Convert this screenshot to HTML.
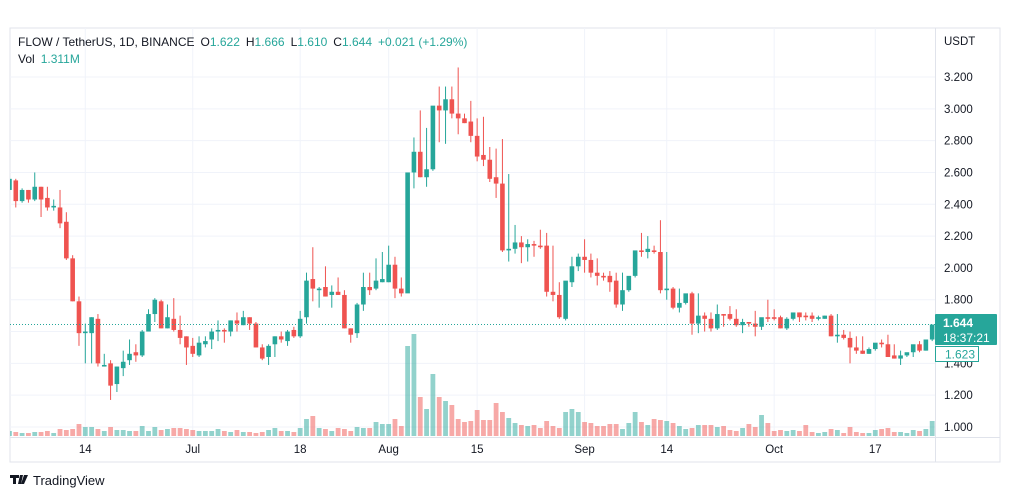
<!DOCTYPE html>
<html><head><meta charset="utf-8">
<style>
body{margin:0;background:#fff;width:1012px;height:498px;overflow:hidden;font-family:"Liberation Sans",sans-serif;}
svg{position:absolute;left:0;top:0;}
</style></head>
<body>
<svg id="chart" width="1012" height="498">
  <rect x="10" y="28" width="990" height="434" fill="#fff" stroke="#e0e3eb" stroke-width="1"/>
  <g id="grid"></g>
  <g id="vol"></g>
  <g id="candles"></g>
  <line x1="10" x2="935" y1="324.5" y2="324.5" stroke="#26a69a" stroke-dasharray="1,2"/>
  <line x1="935.5" x2="935.5" y1="28" y2="462" stroke="#e0e3eb"/>
  <line x1="10" x2="1000" y1="437.5" y2="437.5" stroke="#e0e3eb"/>
  <g id="yaxis"></g>
  <g id="xaxis"></g>
  <text x="944" y="45" font-size="11.5" fill="#131722">USDT</text>
  <rect x="935" y="314" width="62" height="31" rx="1" fill="#26a69a"/>
  <text x="943" y="327" font-size="12" font-weight="bold" fill="#fff">1.644</text>
  <text x="943" y="342" font-size="12" fill="#fff">18:37:21</text>
  <rect x="935.5" y="346.5" width="43" height="15" fill="#fff" stroke="#26a69a"/>
  <text x="945" y="358.5" font-size="12" fill="#26a69a">1.623</text>
  <text x="18" y="46" font-size="12" fill="#131722">FLOW / TetherUS, 1D, BINANCE<tspan dx="6">O</tspan><tspan fill="#26a69a">1.622</tspan><tspan dx="6">H</tspan><tspan fill="#26a69a">1.666</tspan><tspan dx="6">L</tspan><tspan fill="#26a69a">1.610</tspan><tspan dx="6">C</tspan><tspan fill="#26a69a">1.644</tspan><tspan dx="6" fill="#26a69a">+0.021 (+1.29%)</tspan></text>
  <text x="18" y="63" font-size="12" fill="#131722">Vol<tspan dx="6" fill="#26a69a">1.311M</tspan></text>
  <g>
    <path d="M10 475h9v3h-3v6h-3v-6h-3z M20 475h3l-2 9h-3z M24 475h4l-4 9h-3z" fill="#131722"/>
    <text x="33" y="485" font-size="13" fill="#131722">TradingView</text>
  </g>
</svg>
<script>
const opens=[2.49,2.55,2.42,2.49,2.43,2.51,2.44,2.38,2.38,2.29,2.06,1.79,1.59,1.59,1.68,1.38,1.40,1.27,1.37,1.42,1.47,1.45,1.60,1.71,1.79,1.62,1.68,1.61,1.57,1.51,1.45,1.52,1.55,1.60,1.61,1.60,1.67,1.64,1.69,1.65,1.50,1.44,1.52,1.57,1.54,1.61,1.57,1.69,1.93,1.86,1.88,1.83,1.85,1.83,1.62,1.59,1.77,1.88,1.87,1.91,1.91,2.02,1.87,1.84,2.60,2.73,2.57,2.62,3.02,2.99,3.06,2.97,2.94,2.92,2.83,2.71,2.68,2.57,2.53,2.11,2.12,2.16,2.13,2.15,2.14,2.14,1.85,1.83,1.68,1.91,2.01,2.07,2.05,1.97,1.95,1.95,1.92,1.77,1.86,1.95,2.11,2.10,2.11,2.10,1.86,1.87,1.75,1.78,1.84,1.65,1.70,1.68,1.62,1.71,1.71,1.68,1.64,1.66,1.65,1.63,1.69,1.69,1.69,1.62,1.68,1.72,1.70,1.70,1.68,1.68,1.70,1.57,1.58,1.56,1.50,1.48,1.46,1.49,1.53,1.52,1.45,1.43,1.45,1.47,1.52,1.48,1.55];
const highs=[2.56,2.56,2.50,2.49,2.60,2.51,2.51,2.43,2.49,2.35,2.08,1.82,1.65,1.69,1.71,1.46,1.42,1.38,1.48,1.55,1.52,1.61,1.74,1.81,1.80,1.77,1.81,1.70,1.57,1.56,1.57,1.57,1.62,1.67,1.62,1.67,1.72,1.73,1.69,1.66,1.52,1.52,1.57,1.60,1.61,1.63,1.73,1.97,2.13,1.88,2.01,1.89,1.94,1.86,1.62,1.78,1.97,1.97,2.06,2.10,2.14,2.07,1.94,1.82,2.82,2.99,2.88,2.77,3.14,3.14,3.14,3.26,2.97,3.05,2.94,2.95,2.76,2.75,2.81,2.59,2.27,2.20,2.18,2.17,2.24,2.22,2.14,1.91,1.85,2.07,2.09,2.18,2.09,2.06,1.97,1.98,1.97,1.97,1.88,2.03,2.22,2.20,2.14,2.30,2.10,1.88,1.87,1.80,1.85,1.84,1.72,1.72,1.77,1.71,1.76,1.74,1.68,1.66,1.73,1.66,1.80,1.74,1.70,1.69,1.70,1.72,1.72,1.72,1.70,1.70,1.71,1.71,1.61,1.60,1.57,1.57,1.50,1.50,1.55,1.58,1.52,1.48,1.46,1.48,1.54,1.54,1.59,1.666];
const lows=[2.49,2.38,2.41,2.41,2.42,2.32,2.36,2.36,2.25,2.05,1.79,1.51,1.40,1.40,1.38,1.38,1.17,1.22,1.32,1.39,1.41,1.44,1.60,1.66,1.62,1.62,1.60,1.52,1.39,1.44,1.44,1.50,1.49,1.54,1.53,1.57,1.60,1.64,1.61,1.50,1.42,1.39,1.44,1.53,1.51,1.56,1.56,1.65,1.79,1.75,1.82,1.75,1.83,1.62,1.53,1.56,1.73,1.83,1.86,1.91,1.91,1.81,1.82,1.82,2.50,2.57,2.51,2.61,2.79,2.78,2.94,2.84,2.91,2.79,2.67,2.64,2.54,2.44,2.10,2.04,2.09,2.03,2.04,2.07,2.12,1.82,1.79,1.68,1.67,1.88,1.98,1.97,1.94,1.89,1.92,1.85,1.75,1.73,1.85,1.94,2.07,2.06,2.09,1.84,1.80,1.74,1.72,1.77,1.58,1.59,1.60,1.60,1.61,1.63,1.67,1.63,1.59,1.63,1.57,1.61,1.66,1.67,1.62,1.61,1.67,1.66,1.67,1.66,1.67,1.68,1.57,1.53,1.55,1.40,1.46,1.46,1.46,1.48,1.50,1.44,1.43,1.39,1.44,1.44,1.47,1.48,1.54];
const closes=[2.56,2.42,2.49,2.43,2.51,2.43,2.38,2.39,2.28,2.06,1.79,1.59,1.60,1.69,1.40,1.39,1.26,1.38,1.41,1.46,1.45,1.60,1.71,1.80,1.62,1.69,1.61,1.56,1.50,1.46,1.53,1.54,1.60,1.61,1.60,1.67,1.65,1.69,1.65,1.50,1.43,1.51,1.57,1.55,1.60,1.57,1.68,1.92,1.87,1.87,1.82,1.85,1.83,1.62,1.58,1.77,1.88,1.86,1.92,1.93,2.02,1.87,1.84,2.60,2.73,2.57,2.62,3.02,2.99,3.06,2.97,2.94,2.91,2.83,2.70,2.68,2.56,2.53,2.11,2.12,2.16,2.13,2.15,2.14,2.13,1.85,1.83,1.69,1.92,2.01,2.07,2.05,1.97,1.95,1.94,1.91,1.77,1.86,1.95,2.11,2.10,2.12,2.10,1.86,1.87,1.75,1.78,1.84,1.65,1.70,1.68,1.62,1.71,1.70,1.68,1.64,1.66,1.65,1.63,1.69,1.68,1.68,1.62,1.68,1.72,1.69,1.69,1.68,1.69,1.70,1.57,1.58,1.56,1.50,1.48,1.46,1.49,1.53,1.52,1.44,1.43,1.45,1.47,1.52,1.48,1.55,1.644];
const volumes=[0.5,0.4,0.3,0.3,0.4,0.4,0.5,0.3,0.7,0.6,0.7,1.2,0.9,0.9,0.7,0.5,0.9,0.6,0.6,0.5,0.5,1.0,0.5,0.9,0.6,0.7,0.8,0.8,0.7,0.6,0.5,0.5,0.5,0.7,0.5,0.4,0.6,0.4,0.4,0.3,0.4,0.6,0.8,0.5,0.5,0.4,0.8,1.7,2.0,0.8,0.7,0.5,0.8,0.7,0.5,0.9,0.8,0.8,1.4,1.2,1.2,1.7,1.0,9.0,10.2,3.9,2.7,6.2,3.9,3.5,3.1,1.7,1.4,1.5,2.6,1.6,1.6,3.3,2.4,1.8,1.3,1.1,1.0,1.1,0.8,1.5,1.0,0.8,2.4,2.7,2.4,1.4,1.3,1.0,1.0,1.2,1.2,0.7,1.3,2.4,1.4,1.1,1.7,1.6,1.5,1.3,1.0,0.7,0.8,1.1,1.1,1.1,0.9,1.0,0.6,0.5,0.8,1.2,0.9,2.1,1.3,0.5,0.6,0.5,0.6,0.5,1.1,0.4,0.3,0.4,0.7,0.6,0.3,0.9,0.4,0.3,0.3,0.6,0.7,0.8,0.4,0.4,0.3,0.6,0.5,0.7,1.5];
const priceTicks=[3.2,3.0,2.8,2.6,2.4,2.2,2.0,1.8,1.6,1.4,1.2,1.0];
const dateLabels=["14","Jul","18","Aug","15","Sep","14","Oct","17"];
const dateIndex=[0,17,34,48,62,79,92,109,125];

const NS="http://www.w3.org/2000/svg";
const FIRST=-12, X0=85.3, STEP=6.32;
function xOf(i){return X0+(i+FIRST)*STEP;}
function yOf(p){return 427-(p-1)*159.09;}
function vY(v){return 436-v*10;}
function mk(tag,attrs,parent){const e=document.createElementNS(NS,tag);for(const k in attrs)e.setAttribute(k,attrs[k]);parent.appendChild(e);return e;}

const grid=document.getElementById('grid');
const yaxis=document.getElementById('yaxis');
const xaxis=document.getElementById('xaxis');
priceTicks.forEach(p=>{
  const y=yOf(p);
  const g=mk('line',{x1:10,x2:935,y1:y,y2:y,stroke:'#f0f3fa'},grid);
  
  
  const t=mk('text',{x:944,y:y+4,'font-size':11.5,fill:'#131722'},yaxis);
  t.textContent=p.toFixed(3);
  
  
});
dateLabels.forEach((d,j)=>{
  const x=xOf(dateIndex[j]-FIRST);
  const g=mk('line',{x1:x,x2:x,y1:28,y2:437,stroke:'#f0f3fa'},grid);
  
  
  const t=mk('text',{x:x,y:453,'font-size':11.5,fill:'#131722','text-anchor':'middle'},xaxis);
  t.textContent=d;
  
  
});

const cg=document.getElementById('candles');
const vg=document.getElementById('vol');
const clip=mk('clipPath',{id:'pane'},document.getElementById('chart'));
mk('rect',{x:10,y:28,width:925,height:409},clip);
cg.setAttribute('clip-path','url(#pane)');
vg.setAttribute('clip-path','url(#pane)');
for(let i=0;i<opens.length;i++){
  const x=xOf(i), up=closes[i]>=opens[i];
  const col=up?'#26a69a':'#ef5350';
  const vcol=up?'rgba(38,166,154,0.5)':'rgba(239,83,80,0.5)';
  const vb=mk('rect',{x:x-2.4,y:vY(volumes[i]),width:4.8,height:436-vY(volumes[i]),fill:vcol},vg);
  
  
  const w=mk('line',{x1:x,x2:x,y1:yOf(highs[i]),y2:yOf(lows[i]),stroke:col,'stroke-width':1},cg);
  
  
  const top=yOf(Math.max(opens[i],closes[i])), bot=yOf(Math.min(opens[i],closes[i]));
  const b=mk('rect',{x:x-2.3,y:top,width:4.6,height:Math.max(1,bot-top),fill:col},cg);
  
  
}
</script>
</body></html>
